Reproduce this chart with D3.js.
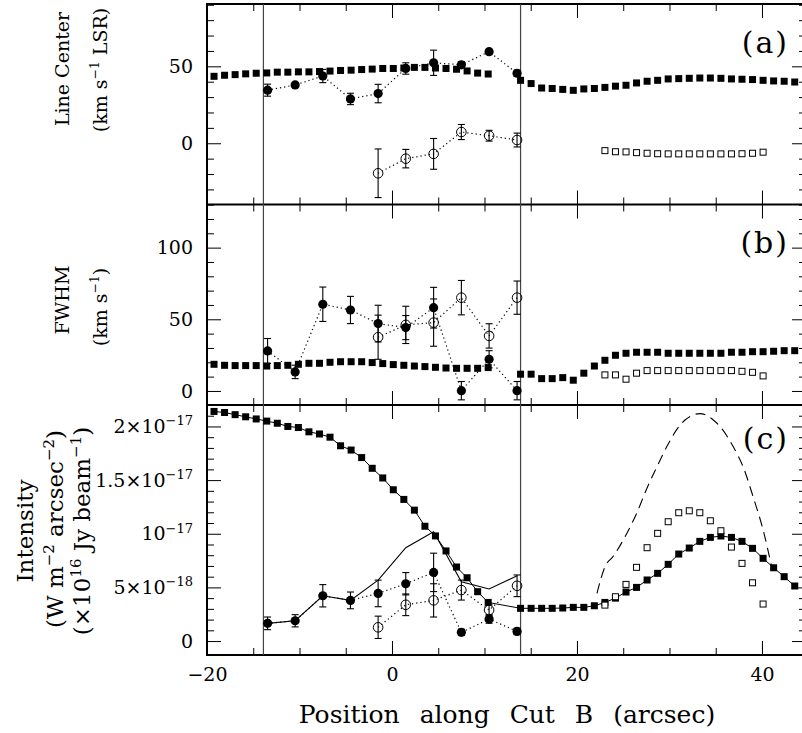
<!DOCTYPE html>
<html>
<head>
<meta charset="utf-8">
<script src="https://cdn.jsdelivr.net/npm/d3@7"></script>
<style>
body { margin: 0; background: #fff; }
svg { display: block; font-family: "DejaVu Serif", serif; }
</style>
</head>
<body>
<div id="chart"></div>
<script>
// sample positions of the map cut (arcsec)
var gridLeft = [-19.24, -18.10, -16.96, -15.82, -14.68, -13.54, -12.40, -11.26, -10.12, -8.98, -7.84, -6.70, -5.56, -4.42,
  -3.28, -2.14, -1.00, 0.14, 1.28, 2.42, 3.56, 4.70, 5.84, 6.98, 8.12, 9.26, 10.40];
var gridRight = [13.90, 15.04, 16.18, 17.32, 18.46, 19.60, 20.74, 21.88, 23.02, 24.16, 25.30, 26.44, 27.58, 28.72,
  29.86, 31.00, 32.14, 33.28, 34.42, 35.56, 36.70, 37.84, 38.98, 40.12, 41.26, 42.40, 43.54];
var gridX = gridLeft.concat(gridRight);
var openGridX = [23.02, 24.16, 25.30, 26.44, 27.58, 28.72, 29.86, 31.00, 32.14, 33.28, 34.42, 35.56, 36.70, 37.84, 38.98, 40.12];
// spectra positions (arcsec)
var fitX = [-13.45, -10.47, -7.48, -4.49, -1.50, 1.49, 4.50, 7.50, 10.50, 13.52];
var fitX2 = [-1.50, 1.49, 4.50, 7.50, 10.50, 13.52];
var cutEdges = [-13.9, 13.9];

// (a) line center, km/s
var centerMap = [43.5, 44.2, 44.6, 45.1, 45.5, 45.7, 46.2, 46.2, 46.4, 46.4, 46.6, 46.9, 47.3, 47.5, 47.9, 48.2, 48.6, 48.6,
  48.9, 49.3, 49.3, 48.9, 48.6, 48.1, 47.0, 45.6, 45.0,
  40.9, 38.8, 35.9, 35.6, 35.0, 34.4, 35.3, 35.6, 36.3, 37.1, 37.7, 39.2, 40.3, 40.9, 41.8, 42.0, 42.2, 42.4,
  42.4, 42.2, 41.8, 41.6, 41.4, 40.9, 40.5, 40.3, 39.8];
var centerMapOpen = [-4.8, -5.5, -5.6, -6.1, -6.5, -6.8, -6.9, -6.9, -6.9, -6.9, -6.9, -6.9, -6.9, -6.8, -6.5, -5.8];
var centerFit1 = [34.5, 37.9, 43.7, 28.8, 32.3, 48.6, 52.3, 51.0, 59.5, 45.5];
var centerFit1Err = [3.9, 1.5, 4.3, 3.7, 6.0, 3.7, 8.2, 2.0, 1.5, 2.0];
var centerFit2 = [-19.5, -10.0, -6.9, 7.3, 4.9, 2.1];
var centerFit2Err = [15.8, 6.0, 10.0, 4.9, 3.5, 4.5];

// (b) FWHM, km/s
var fwhmMap = [18.6, 17.9, 17.7, 17.7, 17.7, 17.4, 17.7, 17.9, 18.6, 19.3, 19.3, 20.0, 20.4, 20.4, 20.4, 19.8, 19.1, 18.4,
  17.9, 17.4, 17.0, 16.5, 16.0, 15.8, 15.8, 15.8, 16.3,
  11.7, 11.7, 8.6, 8.6, 9.3, 7.5, 12.4, 17.4, 21.4, 24.9, 26.3, 27.0, 27.0, 27.0, 26.3, 26.3, 26.3, 26.3,
  26.3, 26.3, 27.0, 27.0, 27.4, 27.4, 27.7, 28.1, 28.1];
var fwhmMapOpen = [11.2, 11.2, 8.2, 12.4, 14.2, 14.2, 14.2, 14.2, 14.2, 14.2, 14.2, 14.2, 14.2, 13.7, 13.0, 10.5];
var fwhmFit1 = [27.9, 13.3, 60.5, 56.5, 47.0, 44.2, 58.1, 0.2, 22.1, 0.2];
var fwhmFit1Err = [8.7, 4.7, 12.0, 9.5, 12.8, 8.4, 14.2, 6.4, 6.0, 6.4];
var fwhmFit2 = [37.5, 46.1, 47.7, 65.1, 38.4, 65.1];
var fwhmFit2Err = [15.4, 13.0, 16.5, 12.0, 8.5, 11.6];

// (c) intensity, units of 1e-18 W m^-2 arcsec^-2
var intMap = [21.4, 21.3, 21.1, 20.9, 20.7, 20.5, 20.3, 20.0, 19.9, 19.5, 19.3, 19.0, 18.2, 17.8, 17.1, 16.1, 15.2, 14.1,
  13.2, 12.2, 10.7, 9.8, 8.4, 6.9, 5.9, 4.6, 3.6,
  3.05, 3.05, 3.05, 3.05, 3.08, 3.14, 3.14, 3.29, 3.6, 4.0, 4.57, 5.0, 5.69, 6.31, 7.15, 8.11, 8.67, 9.29,
  9.66, 9.79, 9.66, 9.29, 8.64, 7.71, 6.83, 6.0, 5.13];
var intMapOpen = [3.35, 4.13, 5.28, 6.87, 8.70, 10.04, 11.12, 11.96, 12.14, 11.96, 11.21, 10.28, 8.76, 7.24, 5.43, 3.45];
var intFit1 = [1.65, 1.89, 4.22, 3.79, 4.44, 5.34, 6.40, 0.81, 2.05, 0.90];
var intFit1Err = [0.59, 0.57, 1.04, 0.78, 1.24, 1.04, 1.79, 0.3, 0.39, 0.3];
var intFit2 = [1.28, 3.38, 3.79, 4.75, 2.89, 5.15];
var intFit2Err = [1.04, 1.01, 1.55, 0.93, 0.47, 1.01];
var intTotal = [1.65, 1.89, 4.22, 3.79, 5.68, 8.70, 10.19, 5.53, 4.85, 6.09];
var contX = [22.16, 23.03, 23.92, 25.37, 26.45, 27.54, 28.62, 29.70, 30.78, 31.68, 33.30, 34.74, 35.65, 36.90, 37.98, 39.06, 40.14, 41.05];
var contY = [4.45, 6.93, 7.9, 10.0, 11.9, 14.2, 16.2, 18.1, 19.7, 20.6, 21.2, 20.6, 19.8, 18.1, 16.2, 13.4, 10.3, 6.9];

// ticks
var xMajor = [-20, 0, 20, 40];
var xMinor = [-15, -10, -5, 5, 10, 15, 25, 30, 35];
var aMajor = [0, 50];
var bMajor = [0, 50, 100];
var cMajor = [0, 5, 10, 15, 20];
var cTickBase = ["0", "5×10", "10", "1.5×10", "2×10"];
var cTickExp = ["", "−18", "−17", "−17", "−17"];

var panelLabels = ["(a)", "(b)", "(c)"];
var yTitles = [
  ["Line Center", "(km s^{−1} LSR)"],
  ["FWHM", "(km s^{−1})"],
  ["Intensity", "(W m^{−2} arcsec^{−2})", "(×10^{16} Jy beam^{−1})"]
];
var xTitle = "Position along Cut B (arcsec)";

var left = 207, right = 806;
var svg = d3.select("#chart").append("svg")
  .attr("width", 802)
  .attr("height", 733);

var x = d3.scaleLinear().domain([-20, 44.76]).range([left, right]);

var panels = [
  {top: 4, bottom: 204.5, y: d3.scaleLinear().domain([-39.8, 90.5]).range([204.5, 4]), major: aMajor},
  {top: 204.5, bottom: 405, y: d3.scaleLinear().domain([-9.8, 130.1]).range([405, 204.5]), major: bMajor},
  {top: 405, bottom: 655, y: d3.scaleLinear().domain([-1.3, 22.0]).range([655, 405]), major: cMajor}
];
panels[0].minor = d3.range(-30, 91, 10);
panels[1].minor = d3.range(0, 131, 10);
panels[2].minor = d3.range(0, 22.01, 1);

function styleAxis(g) {
  g.select(".domain").remove();
  g.attr("font-family", "DejaVu Serif").attr("font-size", 19);
  g.selectAll("line").attr("stroke", "#000");
}

// tick marks only, no labels
function bareAxis(g) {
  styleAxis(g);
  g.selectAll("text").remove();
}

// ticks on every panel edge, pointing inward
panels.forEach(function(p, i) {
  [[xMinor, 7], [xMajor, 14]].forEach(function(t) {
    svg.append("g").attr("transform", `translate(0,${p.bottom})`)
      .call(d3.axisBottom(x).tickValues(t[0]).tickSize(-t[1]))
      .call(bareAxis);
    svg.append("g").attr("transform", `translate(0,${p.top})`)
      .call(d3.axisTop(x).tickValues(t[0]).tickSize(-t[1]))
      .call(bareAxis);
  });
  var minor = p.minor.filter(v => p.major.indexOf(v) < 0);
  svg.append("g").attr("transform", `translate(${left},0)`)
    .call(d3.axisLeft(p.y).tickValues(minor).tickSize(-7))
    .call(bareAxis);
  svg.append("g").attr("transform", `translate(${right},0)`)
    .call(d3.axisRight(p.y).tickValues(minor).tickSize(-7))
    .call(bareAxis);
  svg.append("g").attr("transform", `translate(${right},0)`)
    .call(d3.axisRight(p.y).tickValues(p.major).tickSize(-14))
    .call(bareAxis);
  var la = svg.append("g").attr("transform", `translate(${left},0)`)
    .call(d3.axisLeft(p.y).tickValues(p.major).tickSize(-14).tickPadding(14))
    .call(styleAxis);
  if (i == 2) {
    la.selectAll("text").each(function(d, k) {
      var t = d3.select(this).text(cTickBase[k]);
      if (cTickExp[k]) {
        t.append("tspan").attr("font-size", 13).attr("dy", "-0.6em").text(cTickExp[k]);
      }
    });
  }
});

svg.append("g").attr("transform", `translate(0,655)`)
  .call(d3.axisBottom(x).tickValues(xMajor).tickSize(-14).tickPadding(13))
  .call(styleAxis);

// frame and panel dividers
svg.append("rect")
  .attr("x", left).attr("y", 4)
  .attr("width", right - left).attr("height", 651)
  .attr("fill", "none").attr("stroke", "#000").attr("stroke-width", 2);
svg.selectAll(".divider").data([204.5, 405]).join("line")
  .attr("x1", left).attr("x2", right)
  .attr("y1", d => d).attr("y2", d => d)
  .attr("stroke", "#000").attr("stroke-width", 2);

svg.selectAll(".edge").data(cutEdges).join("line")
  .attr("x1", d => x(d)).attr("x2", d => x(d))
  .attr("y1", 4).attr("y2", 655)
  .attr("stroke", "#444").attr("stroke-width", 1.2);

function squares(y, xs, vs, open) {
  svg.append("g").selectAll("rect").data(d3.zip(xs, vs)).join("rect")
    .attr("x", d => x(d[0]) - (open ? 3 : 3.5))
    .attr("y", d => y(d[1]) - (open ? 3 : 3.5))
    .attr("width", open ? 6 : 7).attr("height", open ? 6 : 7)
    .attr("fill", open ? "#fff" : "#000")
    .attr("stroke", open ? "#000" : "none")
    .attr("stroke-width", 1);
}

function fits(y, xs, vs, errs, open) {
  var pts = d3.zip(xs, vs, errs);
  svg.append("path").datum(pts)
    .attr("d", d3.line().x(d => x(d[0])).y(d => y(d[1])))
    .attr("fill", "none").attr("stroke", "#000")
    .attr("stroke-width", 1.2).attr("stroke-dasharray", "1.2,3");
  var g = svg.append("g").attr("stroke", "#000").attr("stroke-width", 1.1);
  pts.forEach(function(d) {
    var cx = x(d[0]), y0 = y(d[1] - d[2]), y1 = y(d[1] + d[2]);
    g.append("line").attr("x1", cx).attr("x2", cx).attr("y1", y0).attr("y2", y1);
    g.append("line").attr("x1", cx - 3.5).attr("x2", cx + 3.5).attr("y1", y0).attr("y2", y0);
    g.append("line").attr("x1", cx - 3.5).attr("x2", cx + 3.5).attr("y1", y1).attr("y2", y1);
  });
  svg.append("g").selectAll("circle").data(pts).join("circle")
    .attr("cx", d => x(d[0])).attr("cy", d => y(d[1]))
    .attr("r", open ? 4.8 : 4.6)
    .attr("fill", open ? "none" : "#000")
    .attr("stroke", "#000").attr("stroke-width", open ? 1 : 0);
}

var yA = panels[0].y, yB = panels[1].y, yC = panels[2].y;

// panel a
squares(yA, gridX, centerMap, false);
squares(yA, openGridX, centerMapOpen, true);
fits(yA, fitX, centerFit1, centerFit1Err, false);
fits(yA, fitX2, centerFit2, centerFit2Err, true);

// panel b
squares(yB, gridX, fwhmMap, false);
squares(yB, openGridX, fwhmMapOpen, true);
fits(yB, fitX, fwhmFit1, fwhmFit1Err, false);
fits(yB, fitX2, fwhmFit2, fwhmFit2Err, true);

// panel c
svg.append("path").datum(d3.zip(gridX, intMap))
  .attr("d", d3.line().x(d => x(d[0])).y(d => yC(d[1])))
  .attr("fill", "none").attr("stroke", "#000").attr("stroke-width", 1);
svg.append("path").datum(d3.zip(contX, contY))
  .attr("d", d3.line().curve(d3.curveMonotoneX).x(d => x(d[0])).y(d => yC(d[1])))
  .attr("fill", "none").attr("stroke", "#000").attr("stroke-width", 1.1)
  .attr("stroke-dasharray", "10,6");
squares(yC, gridX, intMap, false);
squares(yC, openGridX, intMapOpen, true);
fits(yC, fitX, intFit1, intFit1Err, false);
fits(yC, fitX2, intFit2, intFit2Err, true);
svg.append("path").datum(d3.zip(fitX, intTotal))
  .attr("d", d3.line().x(d => x(d[0])).y(d => yC(d[1])))
  .attr("fill", "none").attr("stroke", "#000").attr("stroke-width", 1.1);

// panel letters
svg.selectAll(".plab").data(panelLabels).join("text")
  .attr("x", 789)
  .attr("y", (d, i) => [53, 253, 449][i])
  .attr("text-anchor", "end")
  .attr("font-size", 30)
  .attr("letter-spacing", 2)
  .text(d => d);

// rotated y titles, "^{...}" marks a superscript
function richText(sel, s, size) {
  var shift = 0;
  s.split(/(\^\{[^}]*\})/).forEach(function(part) {
    if (!part) return;
    if (part[0] == "^") {
      sel.append("tspan").attr("font-size", size * 0.65).attr("dy", -size * 0.4).text(part.slice(2, -1));
      shift = size * 0.4;
    } else {
      var t = sel.append("tspan").text(part);
      if (shift) t.attr("dy", shift);
      shift = 0;
    }
  });
}

var titlePos = [
  [[62, 69], [100, 70]],
  [[62, 300], [100, 307]],
  [[25, 531], [55, 529], [82, 531]]
];
var titleSize = [19, 19, 23];
yTitles.forEach(function(lines, i) {
  lines.forEach(function(s, j) {
    var sz = titleSize[i];
    var t = svg.append("text")
      .attr("transform", `translate(${titlePos[i][j][0] + 0.35 * sz},${titlePos[i][j][1]}) rotate(-90)`)
      .attr("text-anchor", "middle")
      .attr("font-size", sz);
    richText(t, s, sz);
  });
});

svg.append("text")
  .attr("x", 507).attr("y", 723)
  .attr("text-anchor", "middle")
  .attr("font-size", 25)
  .attr("word-spacing", 12)
  .text(xTitle);
</script>
</body>
</html>
